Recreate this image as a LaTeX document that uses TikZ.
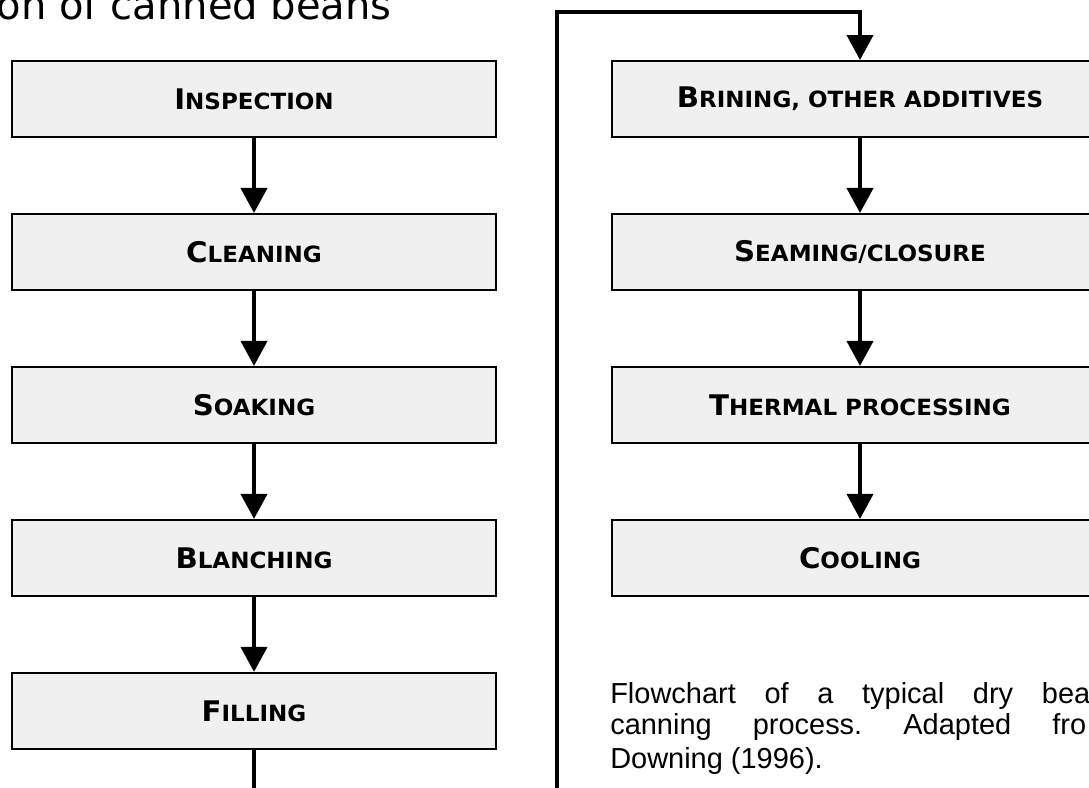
\documentclass[tikz,border=0pt]{standalone}
\usepackage{fontspec}
\setmainfont{DejaVu Sans}
\newfontfamily\capfont{DejaVu Sans}[FakeStretch=1.03]
\newfontfamily\notefont{Liberation Sans}
\usetikzlibrary{positioning,arrows.meta}
\definecolor{boxgray}{HTML}{F0F0F0}
\newcommand{\smcap}[2]{{\capfont\bfseries\fontsize{20.2}{22}\selectfont #1\fontsize{15.9}{18}\selectfont\MakeUppercase{#2}}}
\frenchspacing

\begin{document}
\begin{tikzpicture}[
    stage/.style={rectangle, draw, line width=1.4pt, fill=boxgray, minimum height=1.9cm, inner sep=0pt},
    flow/.style={line width=2.8pt, -{Triangle[width=0.65cm,length=0.625cm]}},
    note/.style={anchor=base west, inner sep=0pt, font=\notefont\fontsize{20.6}{24}\selectfont},
    node distance=1.875cm
]
\useasboundingbox (0,0) rectangle (27.225,-19.675);

% Titel
\node[anchor=base east, inner sep=0pt, font=\fontsize{28.5}{32}\selectfont] (title) at (9.8,-0.475) {on of canned beans};

% Linke Spalte
\node[stage, minimum width=12.1cm] (insp) at (6.35,-2.475) {\smcap{I}{nspection}};
\node[stage, minimum width=12.1cm, below=of insp] (clean) {\smcap{C}{leaning}};
\node[stage, minimum width=12.1cm, below=of clean] (soak) {\smcap{S}{oaking}};
\node[stage, minimum width=12.1cm, below=of soak] (blanch) {\smcap{B}{lanching}};
\node[stage, minimum width=12.1cm, below=of blanch] (fill) {\smcap{F}{illing}};

\draw[flow] (insp) -- (clean);
\draw[flow] (clean) -- (soak);
\draw[flow] (soak) -- (blanch);
\draw[flow] (blanch) -- (fill);
\coordinate (lend) at (6.35,-20);
\draw[line width=2.8pt] (fill.south) -- (lend);

% Rechte Spalte
\node[stage, minimum width=12.4cm] (brine) at (21.5,-2.475) {\smcap{B}{rining, other additives}};
\node[stage, minimum width=12.4cm, below=of brine] (seam) {\smcap{S}{eaming/closure}};
\node[stage, minimum width=12.4cm, below=of seam] (therm) {\smcap{T}{hermal processing}};
\node[stage, minimum width=12.4cm, below=of therm] (cool) {\smcap{C}{ooling}};

\coordinate (rbot) at (13.925,-20);
\coordinate (turn) at ([yshift=1.2cm]brine.north);
\draw[flow] (rbot) |- (turn) -- (brine);
\draw[flow] (brine) -- (seam);
\draw[flow] (seam) -- (therm);
\draw[flow] (therm) -- (cool);

% Legende
\node[note] (cap1) at (15.25,-17.575) {\makebox[12cm][s]{Flowchart of a typical dry bea}};
\node[note] (cap2) at (15.25,-18.35) {\makebox[11.9cm][s]{canning process. Adapted fro}};
\node[note] (cap3) at (15.25,-19.2) {Downing (1996).};
\end{tikzpicture}
\end{document}
